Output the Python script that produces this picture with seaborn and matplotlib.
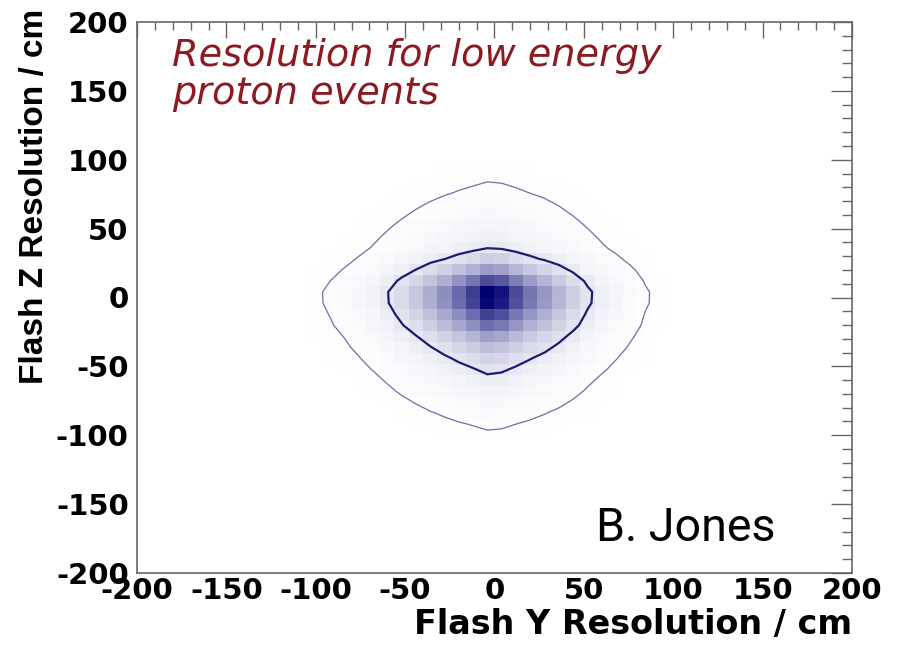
import numpy as np
import pandas as pd
import matplotlib
matplotlib.use("Agg")
import matplotlib.pyplot as plt
from matplotlib.colors import LinearSegmentedColormap
from matplotlib.ticker import MultipleLocator
import seaborn as sns

# 8 cm bin centres of the populated part of the plane (cm)
bin_centres = [-116, -108, -100, -92, -84, -76, -68, -60, -52, -44, -36, -28,
               -20, -12, -4, 4, 12, 20, 28, 36, 44, 52, 60, 68, 76, 84, 92,
               100, 108, 116]

# Sharp core of the resolution distribution, relative to the peak bin
core_y = [0.0005, 0.002, 0.005, 0.009, 0.015, 0.026, 0.045, 0.080, 0.135,
          0.210, 0.310, 0.430, 0.580, 0.750, 1.000, 0.920, 0.700, 0.530,
          0.400, 0.280, 0.180, 0.100, 0.055, 0.033, 0.018, 0.008, 0.004,
          0.002, 0.001, 0.0005]
core_z = [0.001, 0.002, 0.005, 0.009, 0.015, 0.025, 0.040, 0.060, 0.100,
          0.155, 0.240, 0.360, 0.560, 0.740, 0.970, 1.000, 0.700, 0.380,
          0.170, 0.072, 0.045, 0.030, 0.020, 0.014, 0.009, 0.006, 0.004,
          0.002, 0.001, 0.0003]

# Broad low-level halo around the core
halo_y = [0.0057, 0.0093, 0.0147, 0.0223, 0.0326, 0.046, 0.0626, 0.0822,
          0.104, 0.127, 0.150, 0.170, 0.186, 0.196, 0.200, 0.196, 0.186,
          0.170, 0.150, 0.127, 0.104, 0.0822, 0.0626, 0.046, 0.0326, 0.0223,
          0.0147, 0.0093, 0.0057, 0.0034]
halo_z = [0.0057, 0.0093, 0.0147, 0.0223, 0.0326, 0.046, 0.0626, 0.0822,
          0.104, 0.127, 0.150, 0.170, 0.186, 0.196, 0.200, 0.196, 0.186,
          0.170, 0.150, 0.127, 0.104, 0.0822, 0.0626, 0.046, 0.0326, 0.0223,
          0.0147, 0.0093, 0.0057, 0.0034]

contour_levels = [0.0105, 0.10]
axis_range = (-200, 200)

# Bin contents of the 2D histogram
entries = np.outer(core_z, core_y) + np.outer(halo_z, halo_y)
gy, gz = np.meshgrid(bin_centres, bin_centres)
df = pd.DataFrame({"flash_y": gy.ravel(), "flash_z": gz.ravel(),
                   "entries": entries.ravel()})

sns.set_style("white")
plt.rcParams["font.family"] = ["DejaVu Sans"]
plt.rcParams["axes.unicode_minus"] = False
plt.rcParams["text.color"] = "black"
plt.rcParams["axes.labelcolor"] = "black"

fig = plt.figure(figsize=(9.01, 6.46), dpi=100)
ax = fig.add_axes([137 / 901, 73 / 646, 715 / 901, 551 / 646])

cmap = LinearSegmentedColormap.from_list("root_blue", ["#ffffff", "#000070"])
sns.histplot(data=df, x="flash_y", y="flash_z", weights="entries",
             binwidth=8, binrange=axis_range, cmap=cmap, cbar=False,
             vmin=0, ax=ax)

ax.contour(bin_centres, bin_centres, entries, levels=[contour_levels[0]],
           colors="#6e6ea6", linewidths=0.9)
ax.contour(bin_centres, bin_centres, entries, levels=[contour_levels[1]],
           colors="#1c1c72", linewidths=1.6)

ax.set_xlim(*axis_range)
ax.set_ylim(*axis_range)
ax.xaxis.set_major_locator(MultipleLocator(50))
ax.xaxis.set_minor_locator(MultipleLocator(10))
ax.yaxis.set_major_locator(MultipleLocator(50))
ax.yaxis.set_minor_locator(MultipleLocator(10))

axis_grey = "#666666"
for side in ax.spines.values():
    side.set_color(axis_grey)
    side.set_linewidth(1.2)
ax.tick_params(axis="both", which="both", direction="in", top=True,
               right=True, color=axis_grey, width=1.0, labelcolor="black")
ax.tick_params(axis="x", which="major", length=11.5, pad=3)
ax.tick_params(axis="x", which="minor", length=5.8)
ax.tick_params(axis="y", which="major", length=15, pad=6)
ax.tick_params(axis="y", which="minor", length=7.5)
for lab in ax.get_xticklabels() + ax.get_yticklabels():
    lab.set_fontweight("bold")
    lab.set_fontsize(21)

ax.set_xlabel("Flash Y Resolution / cm", fontsize=24, fontweight="bold",
              ha="right", va="top", color="black")
ax.xaxis.set_label_coords(1.0, -0.064)
ax.set_ylabel("Flash Z Resolution / cm", fontsize=24, fontweight="bold",
              family="Liberation Sans", ha="right", va="center",
              rotation_mode="anchor", color="black")
ax.yaxis.set_label_coords(-0.143, 1.024)

title_colour = "#8c1a22"
ax.text(0.049, 0.920, "Resolution for low energy", transform=ax.transAxes,
        fontsize=27.5, style="italic", color=title_colour, va="baseline")
ax.text(0.049, 0.851, "proton events", transform=ax.transAxes,
        fontsize=27.5, style="italic", color=title_colour, va="baseline")
ax.text(0.642, 0.058, "B. Jones", transform=ax.transAxes, fontsize=33.5,
        family="Roboto", color="black", va="baseline")

fig.savefig("out.png", dpi=100)
